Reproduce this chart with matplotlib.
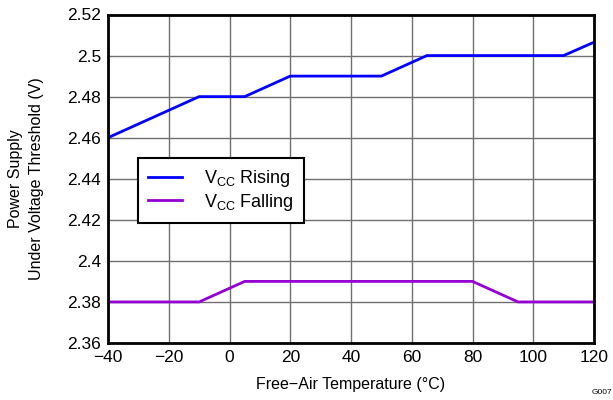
import matplotlib.pyplot as plt

plt.rcParams['font.family'] = ['Liberation Sans', 'DejaVu Sans']

# temperature points (°C) and thresholds (V)
temp_rising = [-40, -10, 5, 20, 50, 65, 110, 120]
vcc_rising = [2.46, 2.48, 2.48, 2.49, 2.49, 2.50, 2.50, 2.5065]
temp_falling = [-40, -10, 5, 80, 95, 120]
vcc_falling = [2.38, 2.38, 2.39, 2.39, 2.38, 2.38]

xticks = [-40, -20, 0, 20, 40, 60, 80, 100, 120]
yticks = [2.36, 2.38, 2.40, 2.42, 2.44, 2.46, 2.48, 2.50, 2.52]
yticklabels = ['2.36', '2.38', '2.4', '2.42', '2.44', '2.46', '2.48', '2.5', '2.52']

fig = plt.figure(figsize=(6.13, 4.0), dpi=100)
ax = fig.add_axes([108/613, 1 - 343/400, 486/613, 328.5/400])

ax.plot(temp_rising, vcc_rising, color='#0000FF', lw=2.0, label='V$_{\\mathregular{CC}}$ Rising',
        solid_joinstyle='miter')
ax.plot(temp_falling, vcc_falling, color='#9400D3', lw=2.0, label='V$_{\\mathregular{CC}}$ Falling',
        solid_joinstyle='miter')

ax.set_xlim(-40, 120)
ax.set_ylim(2.36, 2.52)
ax.set_xticks(xticks)
ax.set_xticklabels([str(t).replace('-', '\u2212') for t in xticks])
ax.set_yticks(yticks)
ax.set_yticklabels(yticklabels)
ax.tick_params(length=0, labelsize=12.5, pad=5)
ax.grid(True, color='#707070', lw=1.0)
ax.set_axisbelow(True)
for s in ax.spines.values():
    s.set_linewidth(2.0)
    s.set_color('black')

ax.set_xlabel('Free\u2212Air Temperature (°C)', fontsize=11.5, labelpad=9)
ax.set_ylabel('Power Supply\nUnder Voltage Threshold (V)', fontsize=11.5, labelpad=17,
              linespacing=1.45)

leg = ax.legend(loc='upper left', bbox_to_anchor=(0.062, 0.563), fontsize=13,
                frameon=True, fancybox=False, edgecolor='black', framealpha=1,
                borderpad=0.55, handlelength=1.9, handletextpad=1.2, borderaxespad=0,
                labelspacing=0.15)
leg.get_frame().set_linewidth(1.5)

fig.text(0.999, 0.018, 'G007', fontsize=6, ha='right', va='center')

fig.savefig('out.png', dpi=100)
